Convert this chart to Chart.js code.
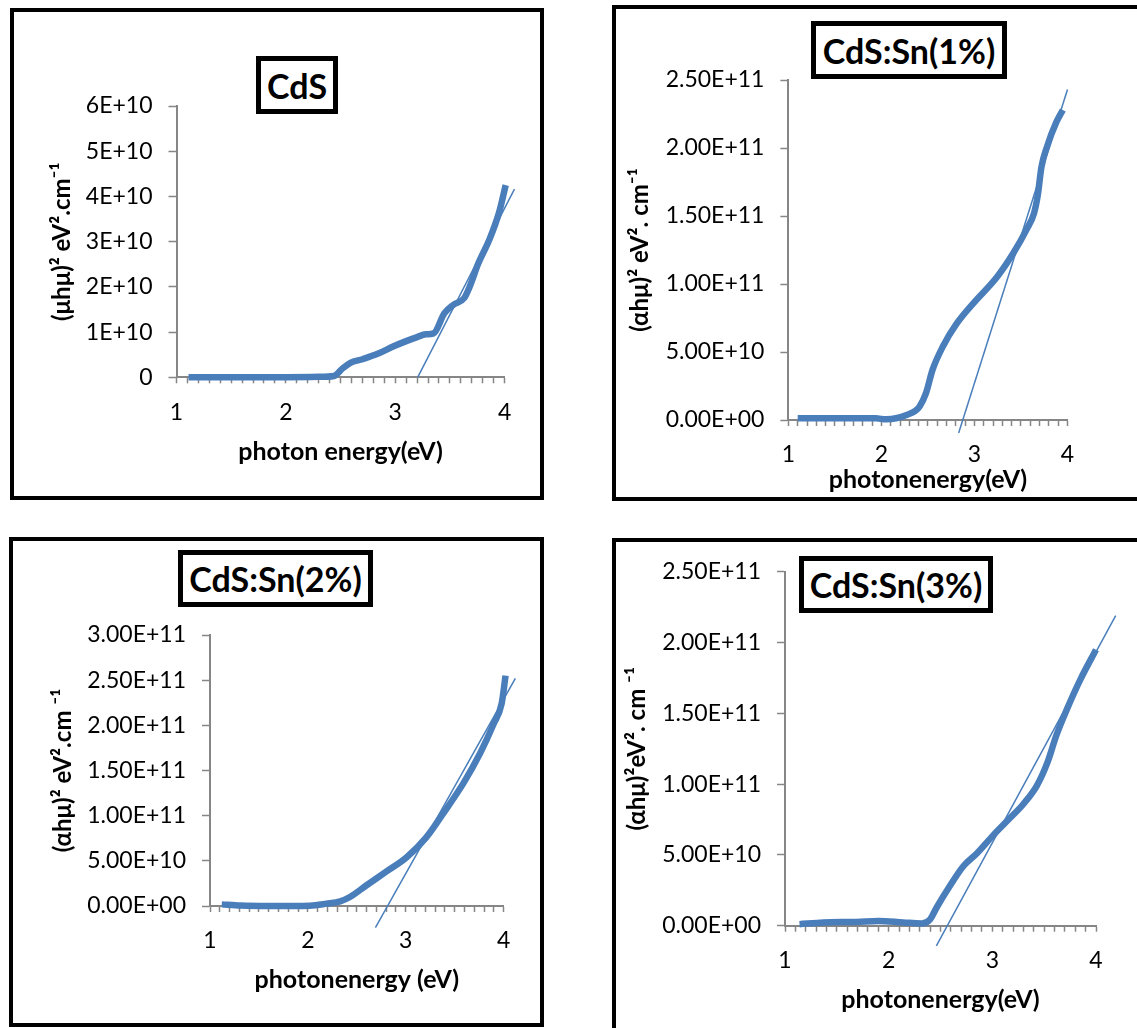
<!DOCTYPE html>
<html>
<head>
<meta charset="utf-8">
<title>Tauc plots CdS and CdS:Sn</title>
<script src="https://cdn.jsdelivr.net/npm/chart.js@4.4.1/dist/chart.umd.min.js"></script>
<style>
  html, body { margin: 0; padding: 0; background: #fff; }
  body { width: 1137px; height: 1028px; overflow: hidden; position: relative; font-family: Lato, sans-serif; }
  .panel { position: absolute; border: 4px solid #000; box-sizing: border-box; }
  .panel canvas { position: absolute; left: 0; top: 0; }
  .tbox { position: absolute; border: 5px solid #000; box-sizing: border-box; background: #fff;
          font: bold 34px Lato, sans-serif; color: #000; display: flex; align-items: center; justify-content: center; }
</style>
</head>
<body>
<div class="panel" style="left:10px;top:8px;width:534px;height:492px"><canvas id="c1"></canvas></div>
<div class="panel" style="left:612px;top:5px;width:540px;height:496px"><canvas id="c2"></canvas></div>
<div class="panel" style="left:9px;top:537px;width:535px;height:490px"><canvas id="c3"></canvas></div>
<div class="panel" style="left:612px;top:538px;width:540px;height:506px"><canvas id="c4"></canvas></div>

<div class="tbox" style="left:256px;top:56px;width:82px;height:58px">CdS</div>
<div class="tbox" style="left:811px;top:21px;width:196px;height:58px">CdS:Sn(1%)</div>
<div class="tbox" style="left:178px;top:550px;width:195px;height:57px">CdS:Sn(2%)</div>
<div class="tbox" style="left:799px;top:556px;width:194px;height:57px">CdS:Sn(3%)</div>

<script>
// photon energy ticks (eV)
const energyTicks = [1, 2, 3, 4];

// CdS
const cdsE = [1.11, 1.5, 2.0, 2.3, 2.44, 2.52, 2.59, 2.7, 2.85, 2.98, 3.1, 3.2, 3.28, 3.35, 3.45, 3.53, 3.63, 3.68, 3.76, 3.86, 3.95, 4.01];
const cdsA = [0, 0, 0.02e9, 0.1e9, 0.3e9, 2.0e9, 3.2e9, 4.0e9, 5.3e9, 6.8e9, 8.0e9, 8.9e9, 9.5e9, 9.7e9, 14.2e9, 16.0e9, 17.5e9, 20e9, 25.2e9, 30.4e9, 36.5e9, 42.5e9];
const cdsFitE = [3.205, 4.09];
const cdsFitA = [0, 41.6e9];
const cdsYTicks = ['0', '1E+10', '2E+10', '3E+10', '4E+10', '5E+10', '6E+10'];

// CdS:Sn(1%)
const sn1E = [1.1, 1.5, 1.94, 2.05, 2.17, 2.27, 2.36, 2.41, 2.48, 2.55, 2.66, 2.81, 2.99, 3.24, 3.42, 3.56, 3.64, 3.68, 3.72, 3.78, 3.88, 3.95];
const sn1A = [0.012e11, 0.012e11, 0.012e11, 0.005e11, 0.015e11, 0.037e11, 0.065e11, 0.1e11, 0.2e11, 0.37e11, 0.54e11, 0.71e11, 0.86e11, 1.05e11, 1.23e11, 1.40e11, 1.52e11, 1.65e11, 1.86e11, 2.01e11, 2.19e11, 2.28e11];
const sn1FitE = [2.83, 4.0];
const sn1FitA = [-0.095e11, 2.43e11];

// CdS:Sn(2%)
const sn2E = [1.12, 1.31, 1.6, 2.02, 2.19, 2.33, 2.43, 2.6, 2.8, 3.01, 3.21, 3.38, 3.59, 3.76, 3.9, 3.98, 4.02];
const sn2A = [0.018e11, 0.005e11, 0, 0.004e11, 0.026e11, 0.052e11, 0.1e11, 0.23e11, 0.38e11, 0.54e11, 0.76e11, 1.02e11, 1.36e11, 1.69e11, 2.02e11, 2.24e11, 2.55e11];
const sn2FitE = [2.69, 4.12];
const sn2FitA = [-0.24e11, 2.52e11];

// CdS:Sn(3%)
const sn3E = [1.14, 1.37, 1.69, 1.9, 2.14, 2.32, 2.40, 2.46, 2.59, 2.72, 2.85, 3.01, 3.17, 3.30, 3.43, 3.53, 3.62, 3.72, 3.85, 4.0];
const sn3A = [0.011e11, 0.023e11, 0.027e11, 0.034e11, 0.023e11, 0.016e11, 0.045e11, 0.125e11, 0.28e11, 0.42e11, 0.51e11, 0.64e11, 0.76e11, 0.86e11, 0.99e11, 1.15e11, 1.35e11, 1.53e11, 1.74e11, 1.95e11];
const sn3FitE = [2.46, 4.19];
const sn3FitA = [-0.143e11, 2.19e11];

const snYTicks250 = ['0.00E+00', '5.00E+10', '1.00E+11', '1.50E+11', '2.00E+11', '2.50E+11'];
const snYTicks300 = ['0.00E+00', '5.00E+10', '1.00E+11', '1.50E+11', '2.00E+11', '2.50E+11', '3.00E+11'];

const blue = '#4A7EBB';
const axisGrey = '#868686';
const xTitleSize = 25;
const yTitleSize = 24;
Chart.defaults.font.family = 'Lato, sans-serif';

function pts(xs, ys) {
    return xs.map((x, i) => ({ x: x, y: ys[i] }));
}

// box = panel inside (page px), area = plot area (page px)
function makeChart(id, box, area, yTitleX, xTitleY, spec) {
    const canvas = document.getElementById(id);
    canvas.width = box.w;
    canvas.height = box.h;
    const yLeft = yTitleX - yTitleSize * 0.6;
    const yWidth = area.left - yLeft;
    const xHeight = xTitleY + xTitleSize * 0.6 - area.bottom;

    return new Chart(canvas, {
        type: 'line',
        data: {
            datasets: [{
                data: pts(spec.e, spec.a),
                borderColor: blue,
                borderWidth: 6.5,
                pointRadius: 0,
                cubicInterpolationMode: 'monotone',
                borderJoinStyle: 'round',
                clip: false
            }, {
                data: pts(spec.fitE, spec.fitA),
                borderColor: blue,
                borderWidth: 1.5,
                pointRadius: 0,
                clip: false
            }]
        },
        options: {
            responsive: false,
            animation: false,
            layout: {
                padding: {
                    left: yLeft - box.x,
                    top: area.top - box.y,
                    right: box.x + box.w - area.right,
                    bottom: box.y + box.h - area.bottom - xHeight
                }
            },
            plugins: {
                legend: { display: false },
                tooltip: { enabled: false }
            },
            scales: {
                x: {
                    type: 'linear',
                    min: 1,
                    max: 4,
                    afterFit: s => { s.height = xHeight; },
                    ticks: {
                        stepSize: 0.1,
                        autoSkip: false,
                        maxRotation: 0,
                        padding: 15,
                        color: '#000',
                        font: { size: 23 },
                        callback: v => {
                            const k = Math.round(v * 10);
                            return k % 10 === 0 ? String(energyTicks[k / 10 - 1]) : '';
                        }
                    },
                    grid: { drawOnChartArea: false, tickLength: 6, color: axisGrey, tickWidth: 1.5 },
                    border: { color: axisGrey, width: 2 },
                    title: { display: true, text: spec.xTitle, color: '#000', padding: 0, font: { size: xTitleSize, weight: 'bold' } }
                },
                y: {
                    min: 0,
                    max: spec.yMax,
                    afterFit: s => { s.width = yWidth; },
                    ticks: {
                        stepSize: spec.yStep,
                        padding: 16,
                        color: '#000',
                        font: { size: 23 },
                        callback: (v, i) => spec.yTicks[i]
                    },
                    grid: { drawOnChartArea: false, tickLength: 8, color: axisGrey, tickWidth: 1.5 },
                    border: { color: axisGrey, width: 2 },
                    title: { display: true, text: spec.yTitle, color: '#000', padding: 0, font: { size: yTitleSize, weight: 'bold' } }
                }
            }
        }
    });
}

// CdS
makeChart('c1', { x: 14, y: 12, w: 526, h: 484 }, { left: 176.5, right: 504.6, top: 106, bottom: 377.3 }, 62.5, 452, {
    e: cdsE, a: cdsA, fitE: cdsFitE, fitA: cdsFitA,
    yMax: 6e10, yStep: 1e10, yTicks: cdsYTicks,
    xTitle: 'photon energy(eV)',
    yTitle: '(\u03bch\u03bc)\u00b2 eV\u00b2.cm\u207b\u00b9'
});

// CdS:Sn(1%)
makeChart('c2', { x: 616, y: 9, w: 532, h: 488 }, { left: 788.4, right: 1067.5, top: 80, bottom: 420 }, 640, 480, {
    e: sn1E, a: sn1A, fitE: sn1FitE, fitA: sn1FitA,
    yMax: 2.5e11, yStep: 5e10, yTicks: snYTicks250,
    xTitle: 'photonenergy(eV)',
    yTitle: '(\u03b1h\u03bc)\u00b2 eV\u00b2. cm\u207b\u00b9'
});

// CdS:Sn(2%)
makeChart('c3', { x: 13, y: 541, w: 527, h: 482 }, { left: 210, right: 503.6, top: 635, bottom: 906 }, 63, 980, {
    e: sn2E, a: sn2A, fitE: sn2FitE, fitA: sn2FitA,
    yMax: 3e11, yStep: 5e10, yTicks: snYTicks300,
    xTitle: 'photonenergy (eV)',
    yTitle: '(\u03b1h\u03bc)\u00b2 eV\u00b2.cm \u207b\u00b9'
});

// CdS:Sn(3%)
makeChart('c4', { x: 616, y: 542, w: 532, h: 498 }, { left: 785, right: 1096, top: 558.3, bottom: 925.7 }, 637.7, 1000, {
    e: sn3E, a: sn3A, fitE: sn3FitE, fitA: sn3FitA,
    yMax: 2.5e11, yStep: 5e10, yTicks: snYTicks250,
    xTitle: 'photonenergy(eV)',
    yTitle: '(\u03b1h\u03bc)\u00b2eV\u00b2. cm \u207b\u00b9'
});
</script>
</body>
</html>
